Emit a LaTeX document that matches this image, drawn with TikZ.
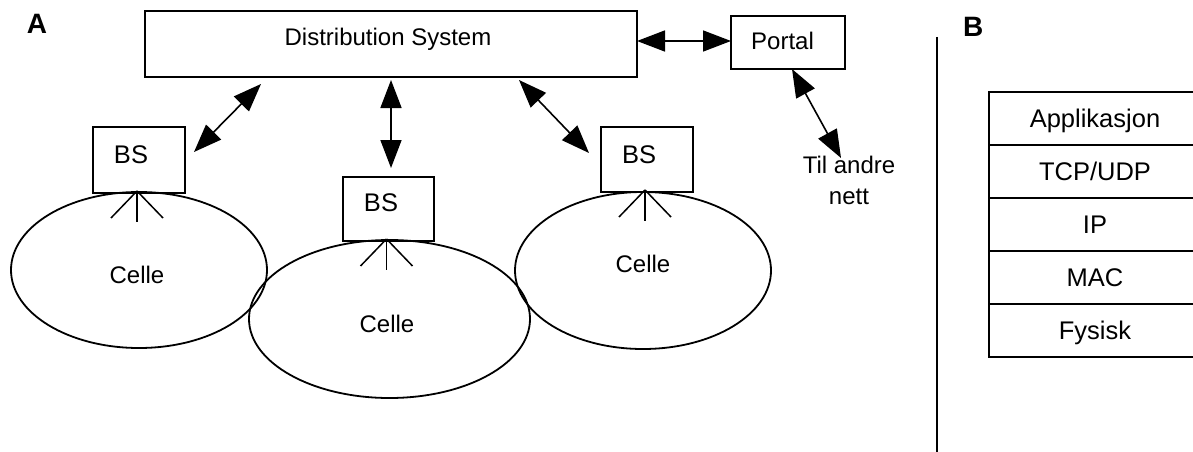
\documentclass[tikz,border=0pt]{standalone}
\usepackage{fontspec}
\setmainfont{Liberation Sans}
\usetikzlibrary{arrows.meta,shapes.geometric,calc}

\begin{document}
\begin{tikzpicture}[x=1pt,y=-1pt,
  every node/.style={inner sep=0pt, outer sep=0pt},
  lbl/.style={font=\fontsize{24}{30.7}\selectfont, anchor=base},
  bslbl/.style={font=\fontsize{25.5}{30}\selectfont, anchor=base},
  panel/.style={font=\fontsize{28}{30}\selectfont\bfseries, anchor=base west},
  box/.style={draw, line width=2pt, rectangle},
  cell/.style={draw, line width=1.8pt, ellipse},
  dbl/.style={line width=1.6pt,
    {Triangle[length=28pt,width=21pt]}-{Triangle[length=28pt,width=21pt]}},
  antenna/.style={line width=1.5pt},
  layer/.style={draw, line width=2pt, rectangle, minimum width=212pt,
    minimum height=53pt, font=\fontsize{25.5}{30}\selectfont,
    text height=18pt, text depth=0pt}]
\useasboundingbox (0,0) rectangle (1193,452);

% panel letters
\node[panel] (pa) at (27,34) {A};
\node[panel] (pb) at (963,36.7) {B};

% distribution system and portal
\node[box, minimum width=492pt, minimum height=66pt] (ds) at (391,44) {};
\node[lbl] (dstxt) at (388,46) {Distribution System};
\node[box, minimum width=114pt, minimum height=53pt] (portal) at (788,42.5) {};
\node[lbl] (portaltxt) at (782.5,49) {Portal};

% cells
\node[cell, minimum width=256pt, minimum height=156pt] (c1) at (139,270) {};
\node[cell, minimum width=281pt, minimum height=158pt] (c2) at (389.5,319) {};
\node[cell, minimum width=256pt, minimum height=157pt] (c3) at (643,270.5) {};
\node[lbl] (c1txt) at (137,283) {Celle};
\node[lbl] (c2txt) at (387,332) {Celle};
\node[lbl] (c3txt) at (643,272) {Celle};

% base stations
\node[box, minimum width=92pt, minimum height=66pt] (bs1) at (139,160) {};
\node[box, minimum width=91pt, minimum height=64pt] (bs2) at (388.5,209) {};
\node[box, minimum width=92pt, minimum height=65pt] (bs3) at (647,159.5) {};
\node[bslbl] (bs1txt) at (131,163) {BS};
\node[bslbl] (bs2txt) at (381,211) {BS};
\node[bslbl] (bs3txt) at (639,163) {BS};

% antennas under each base station
\foreach \b in {bs1,bs2,bs3}{
  \coordinate (\b ant) at ($(\b.south)+(-2,-2)$);
  \draw[antenna] (\b ant) -- ++(0,31);
  \draw[antenna] (\b ant) -- ++(-26,27);
  \draw[antenna] (\b ant) -- ++(26,27);
}

% outside networks (base anchor sits on the last line)
\node[lbl, align=center] (til) at (849,204) {Til andre\\nett};

% links
\coordinate (a1s) at (194,152);
\coordinate (a1e) at (261,84);
\coordinate (a2s) at (391,168);
\coordinate (a2e) at (391,80);
\coordinate (a3s) at (589,153);
\coordinate (a3e) at (519,80);
\coordinate (a5s) at ($(portal.south)+(4,0)$);
\coordinate (a5e) at (841,158);
\draw[dbl] (a1s) -- (a1e);
\draw[dbl] (a2s) -- (a2e);
\draw[dbl] (a3s) -- (a3e);
\draw[dbl] (ds.east |- 0,41) -- (portal.west |- 0,41);
\draw[dbl] (a5s) -- (a5e);

% divider between the panels
\coordinate (divtop) at (937,37);
\coordinate (divbot) at (937,460);
\draw[line width=2.5pt] (divtop) -- (divbot);

% protocol stack
\node[layer] (l1) at (1095,118.5) {Applikasjon};
\node[layer, anchor=north] (l2) at (l1.south) {TCP/UDP};
\node[layer, anchor=north] (l3) at (l2.south) {IP};
\node[layer, anchor=north] (l4) at (l3.south) {MAC};
\node[layer, anchor=north] (l5) at (l4.south) {Fysisk};
\end{tikzpicture}
\end{document}
